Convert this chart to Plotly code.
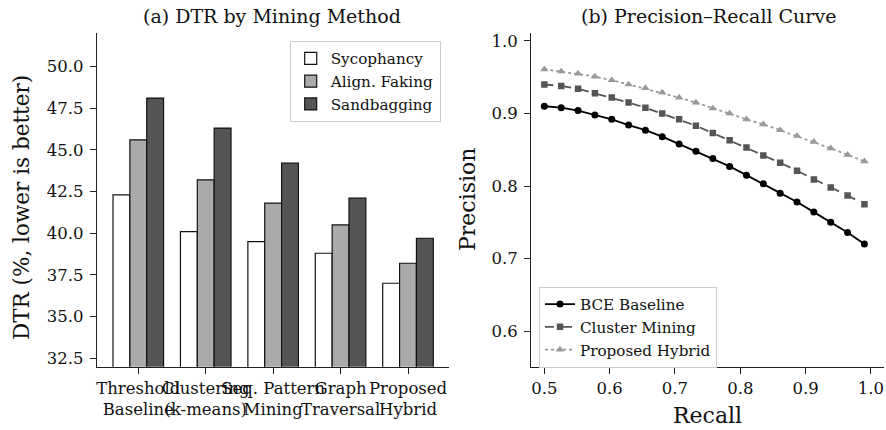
import plotly.graph_objects as go

# ---- data ----
methods = ["Threshold<br>Baseline", "Clustering<br>(k-means)", "Seq. Pattern<br>Mining",
           "Graph<br>Traversal", "Proposed<br>Hybrid"]
sycophancy = [42.3, 40.1, 39.5, 38.8, 37.0]
align_faking = [45.6, 43.2, 41.8, 40.5, 38.2]
sandbagging = [48.1, 46.3, 44.2, 42.1, 39.7]

recall = [0.5 + i * (0.99 - 0.5) / 19 for i in range(20)]
bce_baseline = [0.910, 0.908, 0.904, 0.898, 0.892, 0.884, 0.877, 0.868, 0.858, 0.848,
                0.838, 0.827, 0.815, 0.803, 0.790, 0.778, 0.764, 0.750, 0.736, 0.720]
cluster_mining = [0.940, 0.938, 0.934, 0.928, 0.922, 0.915, 0.908, 0.900, 0.892, 0.883,
                  0.873, 0.863, 0.853, 0.842, 0.832, 0.821, 0.809, 0.798, 0.787, 0.775]
proposed_hybrid = [0.961, 0.958, 0.955, 0.951, 0.946, 0.940, 0.935, 0.929, 0.922, 0.915,
                   0.907, 0.900, 0.892, 0.885, 0.877, 0.869, 0.861, 0.852, 0.843, 0.834]

W, H = 886, 430
FONT = "DejaVu Serif"
TXT = "#111111"

def px_x(p):
    return p / W

def px_y(p):
    return 1 - p / H

fig = go.Figure()

bar_series = [("Sycophancy", sycophancy, "#ffffff"),
              ("Align. Faking", align_faking, "#aaaaaa"),
              ("Sandbagging", sandbagging, "#555555")]
for name, vals, col in bar_series:
    fig.add_trace(go.Bar(x=methods, y=vals, name=name,
                         marker=dict(color=col, line=dict(color="#111111", width=1.2)),
                         xaxis="x", yaxis="y", legend="legend"))

line_series = [("BCE Baseline", bce_baseline, "#000000", "solid", "circle", 7),
               ("Cluster Mining", cluster_mining, "#555555", "dash", "square", 6.5),
               ("Proposed Hybrid", proposed_hybrid, "#999999", "dot", "triangle-up", 7.5)]
for name, vals, col, dash, sym, sz in line_series:
    fig.add_trace(go.Scatter(x=recall, y=vals, name=name, mode="lines+markers",
                             line=dict(color=col, dash=dash, width=1.8),
                             marker=dict(symbol=sym, size=sz, color=col),
                             xaxis="x2", yaxis="y2", legend="legend2"))

axis_common = dict(showgrid=False, zeroline=False, showline=True, linecolor="#222222", linewidth=1.3,
                   ticks="outside", ticklen=6, tickwidth=1.2, tickcolor="#222222",
                   tickfont=dict(family=FONT, size=16.5, color=TXT), mirror=False,
                   automargin=False, tickangle=0, ticklabeloverflow="allow")

fig.update_layout(
    width=W, height=H,
    margin=dict(l=0, r=0, t=0, b=0, autoexpand=False),
    paper_bgcolor="white", plot_bgcolor="white",
    font=dict(family=FONT, color=TXT),
    barmode="group", bargap=0.25, bargroupgap=0,
    xaxis=dict(domain=[px_x(97), px_x(449.3)], type="category", range=[-0.6125, 4.6125],
               anchor="y", **axis_common),
    yaxis=dict(domain=[px_y(366.7), px_y(33)], range=[32.0, 52.0],
               tickvals=[32.5, 35, 37.5, 40, 42.5, 45, 47.5, 50],
               ticktext=["32.5", "35.0", "37.5", "40.0", "42.5", "45.0", "47.5", "50.0"],
               anchor="x", ticklabelstandoff=3, **axis_common),
    xaxis2=dict(domain=[px_x(531.3), px_x(884)], range=[0.48, 1.02],
                tickvals=[0.5, 0.6, 0.7, 0.8, 0.9, 1.0],
                ticktext=["0.5", "0.6", "0.7", "0.8", "0.9", "1.0"], anchor="y2", **axis_common),
    yaxis2=dict(domain=[px_y(367.3), px_y(33)], range=[0.55, 1.011],
                tickvals=[0.6, 0.7, 0.8, 0.9, 1.0],
                ticktext=["0.6", "0.7", "0.8", "0.9", "1.0"], anchor="x2", ticklabelstandoff=3,
                **axis_common),
    legend=dict(x=px_x(440.7), y=px_y(41), xanchor="right", yanchor="top",
                bgcolor="rgba(255,255,255,0.9)", bordercolor="#cccccc", borderwidth=1,
                font=dict(family=FONT, size=15.2, color=TXT), tracegroupgap=0),
    legend2=dict(x=px_x(539), y=px_y(286.7), xanchor="left", yanchor="top",
                 bgcolor="rgba(255,255,255,0.9)", bordercolor="#cccccc", borderwidth=1,
                 font=dict(family=FONT, size=15.2, color=TXT), tracegroupgap=0),
    annotations=[
        dict(text="(a) DTR by Mining Method", x=px_x(272), y=px_y(16), xref="paper", yref="paper",
             showarrow=False, font=dict(family=FONT, size=19, color=TXT), xanchor="center", yanchor="middle"),
        dict(text="(b) Precision–Recall Curve", x=px_x(708), y=px_y(16), xref="paper", yref="paper",
             showarrow=False, font=dict(family=FONT, size=19, color=TXT), xanchor="center", yanchor="middle"),
        dict(text="DTR (%, lower is better)", x=px_x(21), y=px_y(208), xref="paper", yref="paper",
             showarrow=False, textangle=-90, font=dict(family=FONT, size=21.5, color=TXT),
             xanchor="center", yanchor="middle"),
        dict(text="Precision", x=px_x(468), y=px_y(200), xref="paper", yref="paper",
             showarrow=False, textangle=-90, font=dict(family=FONT, size=22, color=TXT),
             xanchor="center", yanchor="middle"),
        dict(text="Recall", x=px_x(707), y=px_y(415), xref="paper", yref="paper",
             showarrow=False, font=dict(family=FONT, size=22, color=TXT),
             xanchor="center", yanchor="middle"),
    ],
)

fig.write_html("out.html", config={"displayModeBar": False},
               post_script="document.body.style.margin='0';document.body.style.overflow='hidden';")
